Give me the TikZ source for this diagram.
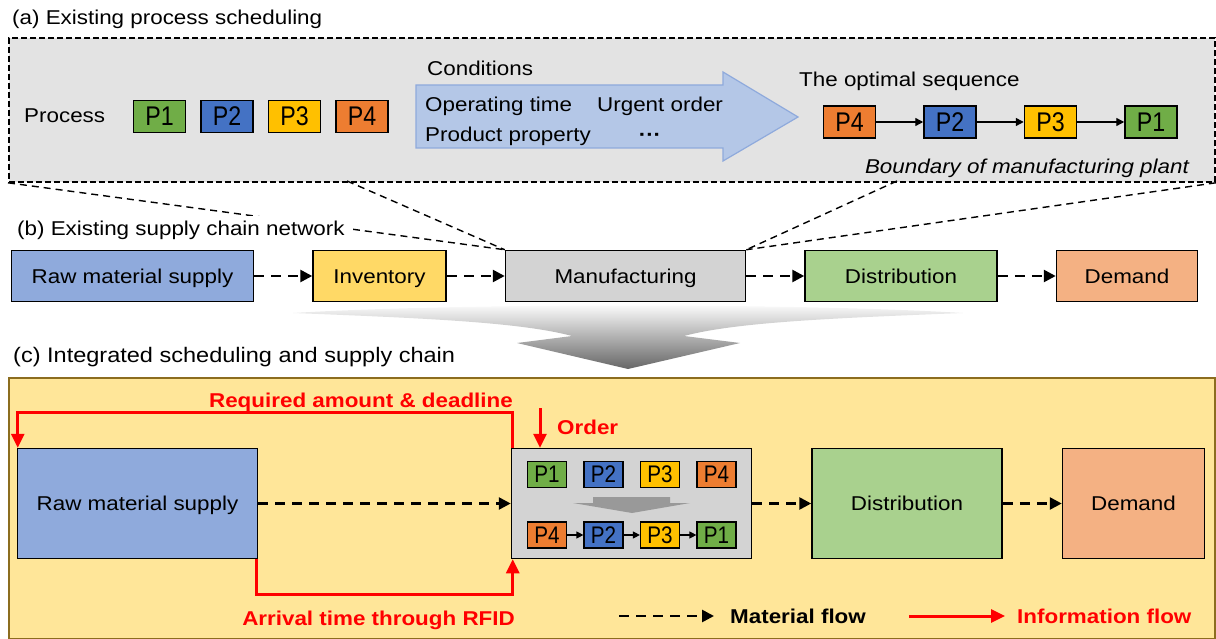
\documentclass[tikz,border=0pt]{standalone}
\usepackage{fontspec}
\setmainfont{Liberation Sans}[FakeStretch=1.12]
\newfontfamily\pfont{Liberation Sans}[FakeStretch=0.86]
\usetikzlibrary{arrows.meta,chains,positioning}

% box colours
\definecolor{rawblue}{HTML}{8FAADC}
\definecolor{invyellow}{HTML}{FFD966}
\definecolor{mfggray}{HTML}{D3D3D3}
\definecolor{distgreen}{HTML}{A9D18E}
\definecolor{demorange}{HTML}{F4B183}
% process colours
\definecolor{pgreen}{HTML}{70AD47}
\definecolor{pblue}{HTML}{4472C4}
\definecolor{pyellow}{HTML}{FFC000}
\definecolor{porange}{HTML}{ED7D31}
% frames and lines
\definecolor{plantgray}{HTML}{E3E3E3}
\definecolor{condblue}{HTML}{B4C7E7}
\definecolor{condedge}{HTML}{8FAADC}
\definecolor{scfill}{HTML}{FFE699}
\definecolor{scedge}{HTML}{8C6D1F}
\definecolor{infored}{HTML}{FF0000}

\newcommand\basefont{\fontsize{20}{24}\selectfont}

\begin{document}
\begin{tikzpicture}[%
    x=1pt, y=-1pt,              % one unit per pixel, y grows downwards
    >={Triangle[length=12pt,width=12pt]},
    font=\basefont,
    every node/.style={inner sep=0pt},
    ]
% -------------------------------------------------
% Box styles (text height = cap height, so labels sit centred)
\tikzset{
  box/.style={draw, line width=1.5pt, minimum height=51pt,
    text height=14.3pt, text depth=0pt},
  bigbox/.style={box, minimum height=110pt},
  pbox/.style={draw, line width=1.5pt, minimum width=52pt, minimum height=32pt,
    font=\pfont\fontsize{27}{27}\selectfont},
  sbox/.style={draw, line width=1.2pt, minimum width=39pt, minimum height=26pt,
    font=\pfont\fontsize{24}{24}\selectfont},
  % Connector line styles
  mat/.style={->, draw, line width=2.6pt, dash pattern=on 10pt off 7pt},
  info/.style={->, draw=infored, line width=3pt,
    >={Triangle[length=14pt,width=13pt]}},
  seqarrow/.style={->, draw, line width=1.4pt,
    >={Triangle[length=8pt,width=8pt]}},
  seqsmall/.style={->, draw, line width=1.2pt,
    >={Triangle[length=7pt,width=7pt]}},
  zoomline/.style={draw, line width=1.4pt, dash pattern=on 7pt off 5pt},
  txt/.style={anchor=base west},
  redtxt/.style={text=infored, font=\basefont\bfseries},
}
\useasboundingbox (0,0) rectangle (1216,639);

% -------------------------------------------------
% (a) scheduling inside the plant
\node[txt] (titlea) at (12,24.3) {(a) Existing process scheduling};
\node[draw, fill=plantgray, line width=1.8pt, dash pattern=on 6pt off 3pt,
  minimum width=1206pt, minimum height=144pt, anchor=north west]
  (plant) at (8,37) {};

\node[txt] (proclbl) at (24,122.7) {Process};
\begin{scope}[start chain=going right, node distance=14pt]
  \node[pbox, fill=pgreen, on chain] (pa1) at (159.5,116.5) {P1};
  \node[pbox, fill=pblue, on chain] (pa2) {P2};
  \node[pbox, fill=pyellow, on chain] (pa3) {P3};
  \node[pbox, fill=porange, on chain] (pa4) {P4};
\end{scope}

% the conditions arrow
\draw[fill=condblue, draw=condedge, line width=1.2pt]
  (416,85) -- (723,85) -- (723,72) -- (798,117) -- (723,161)
  -- (723,148) -- (416,148) -- cycle;
\node[txt] (cond) at (427,75.7) {Conditions};
\node[txt] (optime) at (425,111.7) {Operating time};
\node[txt] (urgent) at (597,111.7) {Urgent order};
\node[txt] (prop) at (425,141.7) {Product property};
\node[anchor=base, font=\basefont\bfseries] (more) at (650,141.7) {···};

\node[txt] (optlbl) at (799,86.7) {The optimal sequence};
\begin{scope}[start chain=going right, node distance=47pt]
  \node[pbox, fill=porange, on chain] (sq4) at (849.5,122) {P4};
  \node[pbox, fill=pblue, on chain, join=by seqarrow] (sq2) {P2};
  \node[pbox, fill=pyellow, on chain, join=by seqarrow] (sq3) {P3};
  \node[pbox, fill=pgreen, on chain, join=by seqarrow] (sq1) {P1};
\end{scope}
\node[anchor=base east, font=\basefont\itshape] (plantlbl) at (1189,173.3)
  {Boundary of manufacturing plant};

% -------------------------------------------------
% (b) supply chain network
\begin{scope}[start chain=going right, node distance=58pt]
  \node[box, fill=rawblue, minimum width=242pt, on chain] (rawb) at (132.5,276)
    {Raw material supply};
  \node[box, fill=invyellow, minimum width=133pt, on chain, join=by mat] (invb)
    {Inventory};
  \node[box, fill=mfggray, minimum width=240pt, on chain, join=by mat] (mfgb)
    {Manufacturing};
  \node[box, fill=distgreen, minimum width=192pt, on chain, join=by mat] (distb)
    {Distribution};
  \node[box, fill=demorange, minimum width=141pt, on chain, join=by mat] (demb)
    {Demand};
\end{scope}

% zoom lines from the plant down to manufacturing
\coordinate (zoomL) at (347,181);
\coordinate (zoomR) at (897,181);
\draw[zoomline] (plant.south west) -- (mfgb.north west);
\draw[zoomline] (zoomL) -- (mfgb.north west);
\draw[zoomline] (zoomR) -- (mfgb.north east);
\draw[zoomline] (plant.south east) -- (mfgb.north east);
\node[txt, fill=white, inner xsep=8pt, inner ysep=6pt] (titleb) at (9,236)
  {(b) Existing supply chain network};

% big funnel arrow between (b) and (c)
\shade[top color=white, bottom color=black!60]
  (293,313) .. controls (420,318) and (520,322) .. (572,336)
  -- (517,343) -- (628,369) -- (740,343) -- (684,336)
  .. controls (736,322) and (836,318) .. (963,313)
  .. controls (800,303) and (456,303) .. cycle;

% -------------------------------------------------
% (c) integrated scheduling and supply chain
\node[txt, font=\fontsize{21}{25}\selectfont] (titlec) at (13,362.7)
  {(c) Integrated scheduling and supply chain};
\node[draw=scedge, fill=scfill, line width=2pt,
  minimum width=1206pt, minimum height=261pt, anchor=north west]
  (scbox) at (8,377) {};

\node[bigbox, fill=rawblue, minimum width=240pt] (rawc) at (137.5,503.5)
  {Raw material supply};
\begin{scope}[start chain=going right, node distance=59pt]
  \node[bigbox, fill=mfggray, minimum width=240pt, on chain] (mfgc)
    at (631.5,503.5) {};
  \node[bigbox, fill=distgreen, minimum width=190pt, on chain, join=by mat]
    (distc) {Distribution};
  \node[bigbox, fill=demorange, minimum width=142pt, on chain, join=by mat]
    (demc) {Demand};
\end{scope}
\draw[mat] (rawc) -- (mfgc);

% processes inside the plant, before and after scheduling
\begin{scope}[start chain=going right, node distance=16.3pt]
  \node[sbox, fill=pgreen, on chain] (pc1) at (547,474.5) {P1};
  \node[sbox, fill=pblue, on chain] (pc2) {P2};
  \node[sbox, fill=pyellow, on chain] (pc3) {P3};
  \node[sbox, fill=porange, on chain] (pc4) {P4};
\end{scope}
\fill[black!40] (593,497) -- (670,497) -- (670,503) -- (690,503) -- (632,513)
  -- (573,503) -- (593,503) -- cycle;
\begin{scope}[start chain=going right, node distance=16.3pt]
  \node[sbox, fill=porange, on chain] (qc4) at (547,535) {P4};
  \node[sbox, fill=pblue, on chain, join=by seqsmall] (qc2) {P2};
  \node[sbox, fill=pyellow, on chain, join=by seqsmall] (qc3) {P3};
  \node[sbox, fill=pgreen, on chain, join=by seqsmall] (qc1) {P1};
\end{scope}

% information flow
\draw[info] ([xshift=2pt]mfgc.north west) -- ++(0,-35)
  -| ([xshift=1pt]rawc.north west);
\node[anchor=base east, redtxt] (reqlbl) at (513,407.3)
  {Required amount \& deadline};
\draw[info] ([xshift=-2pt]rawc.south east) -- ++(0,35)
  -| ([xshift=2pt]mfgc.south west);
\node[anchor=base east, redtxt] (arrlbl) at (515,625)
  {Arrival time through RFID};
\coordinate (ordsrc) at (540,408);
\draw[info] (ordsrc) -- (ordsrc |- mfgc.north);
\node[txt, redtxt] (ordlbl) at (557,434) {Order};

% legend
\coordinate (matA) at (619,616);
\coordinate (matB) at (714,616);
\draw[mat] (matA) -- (matB);
\node[txt, font=\basefont\bfseries] (matlbl) at (730,623.3) {Material flow};
\coordinate (infoA) at (909,616);
\coordinate (infoB) at (1005,616);
\draw[info] (infoA) -- (infoB);
\node[txt, redtxt] (infolbl) at (1017,623.3) {Information flow};
% -------------------------------------------------
\end{tikzpicture}
\end{document}
